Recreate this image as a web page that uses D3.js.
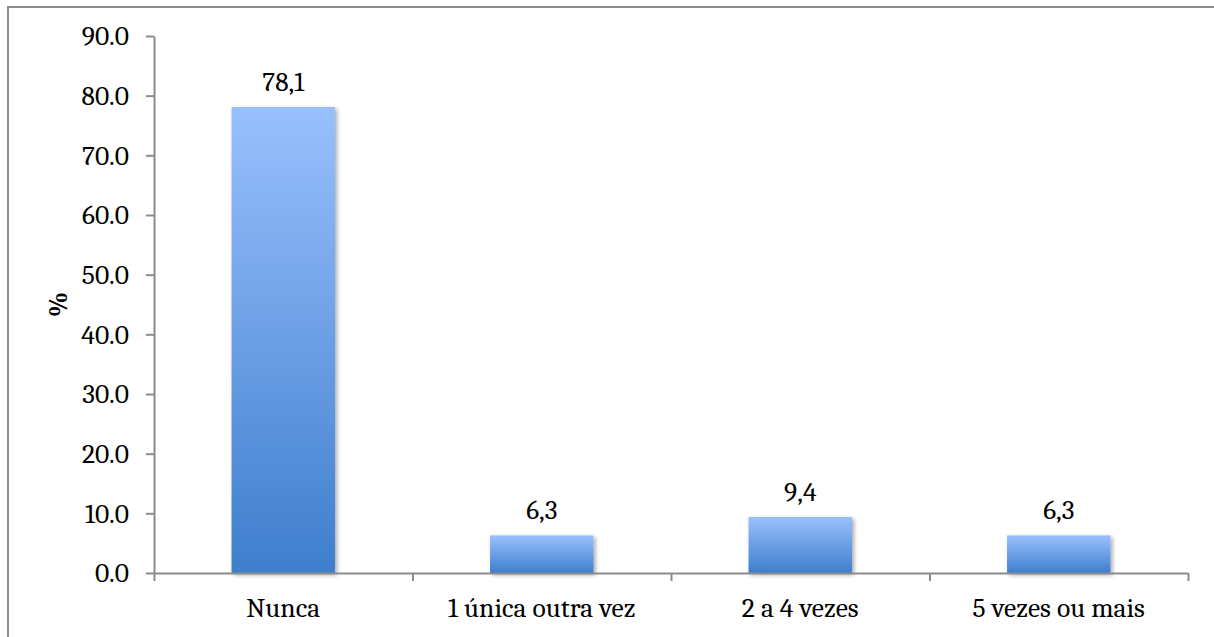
<!DOCTYPE html>
<html>
<head>
<meta charset="utf-8">
<script src="https://cdn.jsdelivr.net/npm/d3@7"></script>
<style>
  html, body { margin: 0; padding: 0; background: #fff; }
  svg { display: block; }
</style>
</head>
<body>
<script>
// Categories and percentages
const categories = ["Nunca", "1 única outra vez", "2 a 4 vezes", "5 vezes ou mais"];
const values = [78.1, 6.3, 9.4, 6.3];
const yTicks = [0, 10, 20, 30, 40, 50, 60, 70, 80, 90];
const yTitle = "%";

const FONT = "'Caladea', 'Liberation Serif', serif";
const FS = "27.5px";

const W = 1214, H = 637;
const margin = { left: 154, right: 26, top: 36, bottom: 64 };

const svg = d3.select("body").append("svg")
  .attr("width", W).attr("height", H);

const defs = svg.append("defs");
const grad = defs.append("linearGradient")
  .attr("id", "barFill").attr("x1", 0).attr("y1", 0).attr("x2", 0).attr("y2", 1);
grad.append("stop").attr("offset", "0%").attr("stop-color", "#99c0fd");
grad.append("stop").attr("offset", "100%").attr("stop-color", "#3e7ecd");

const shadow = defs.append("filter").attr("id", "barShadow")
  .attr("x", "-20%").attr("y", "-20%").attr("width", "140%").attr("height", "140%");
shadow.append("feDropShadow")
  .attr("dx", 2).attr("dy", 2).attr("stdDeviation", 2.2)
  .attr("flood-color", "#000").attr("flood-opacity", 0.35);

// Chart frame
svg.append("rect")
  .attr("x", 8).attr("y", 7).attr("width", W + 10).attr("height", H + 10)
  .attr("fill", "none").attr("stroke", "#8c8c8c").attr("stroke-width", 2);

const x = d3.scaleBand()
  .domain(categories)
  .range([margin.left, W - margin.right])
  .paddingInner(0.6).paddingOuter(0.3);

const xTickScale = d3.scaleLinear()
  .domain([0, categories.length])
  .range([margin.left, W - margin.right]);

const y = d3.scaleLinear()
  .domain([0, 90])
  .range([H - margin.bottom, margin.top]);

// Bars
svg.append("g").selectAll("rect")
  .data(values)
  .join("rect")
  .attr("x", (d, i) => x(categories[i]))
  .attr("y", d => y(d))
  .attr("width", x.bandwidth())
  .attr("height", d => y(0) - y(d))
  .attr("fill", "url(#barFill)")
  .attr("filter", "url(#barShadow)");

// Y axis
const yAxis = svg.append("g")
  .attr("transform", `translate(${margin.left},0)`)
  .call(d3.axisLeft(y).tickValues(yTicks).tickFormat(d3.format(".1f"))
    .tickSize(8).tickSizeOuter(0).tickPadding(17));
yAxis.select(".domain").attr("stroke", "#8c8c8c").attr("stroke-width", 2);
yAxis.selectAll(".tick line").attr("stroke", "#8c8c8c").attr("stroke-width", 2);
yAxis.selectAll(".tick text")
  .style("font-family", FONT)
  .style("font-size", FS).attr("fill", "#000");

// X axis: boundary ticks between categories, labels centred under bars
const xAxis = svg.append("g")
  .attr("transform", `translate(0,${y(0)})`)
  .call(d3.axisBottom(xTickScale).tickValues(d3.range(0, categories.length + 1))
    .tickSize(8).tickSizeOuter(0).tickFormat(""));
xAxis.select(".domain").attr("stroke", "#8c8c8c").attr("stroke-width", 2);
xAxis.selectAll(".tick line").attr("stroke", "#8c8c8c").attr("stroke-width", 2);

svg.append("g").selectAll("text")
  .data(categories)
  .join("text")
  .attr("x", d => x(d) + x.bandwidth() / 2)
  .attr("y", y(0) + 44)
  .attr("text-anchor", "middle")
  .style("font-family", FONT)
  .style("font-size", FS)
  .attr("fill", "#000")
  .text(d => d);

// Value labels
const fmtComma = v => d3.format(".1f")(v).replace(".", ",");
svg.append("g").selectAll("text")
  .data(values)
  .join("text")
  .attr("x", (d, i) => x(categories[i]) + x.bandwidth() / 2)
  .attr("y", d => y(d) - 16)
  .attr("text-anchor", "middle")
  .style("font-family", FONT)
  .style("font-size", FS)
  .attr("fill", "#000")
  .text(d => fmtComma(d));

// Y axis title
svg.append("text")
  .attr("transform", `translate(67,${(y(0) + y(90)) / 2}) rotate(-90)`)
  .attr("text-anchor", "middle")
  .style("font-family", FONT)
  .style("font-size", "26px")
  .style("font-weight", "bold")
  .attr("fill", "#000")
  .text(yTitle);
</script>
</body>
</html>
